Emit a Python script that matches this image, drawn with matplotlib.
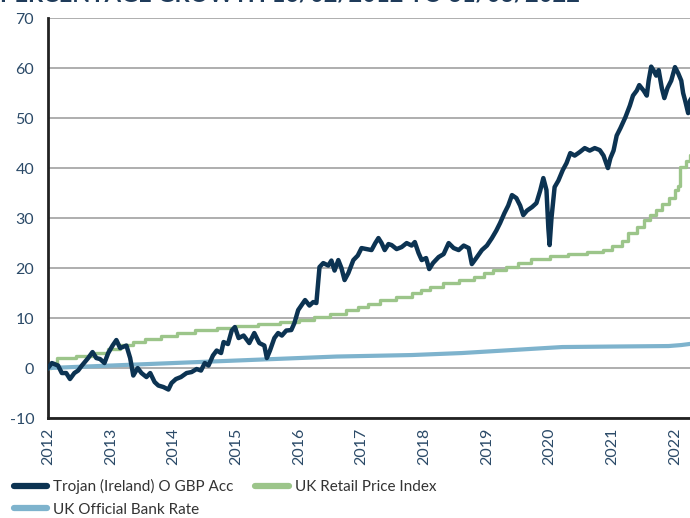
import matplotlib
matplotlib.use('Agg')
import matplotlib.pyplot as plt
from matplotlib.lines import Line2D

# Trojan (Ireland) O GBP Acc, cumulative % growth
trojan_years = [2012.00, 2012.06, 2012.16, 2012.22, 2012.29, 2012.35, 2012.42, 2012.48, 2012.54, 2012.64,
                2012.71, 2012.77, 2012.83, 2012.90, 2012.96, 2013.03, 2013.09, 2013.15, 2013.25, 2013.31,
                2013.36, 2013.43, 2013.49, 2013.57, 2013.63, 2013.70, 2013.76, 2013.84, 2013.92, 2013.97,
                2014.04, 2014.12, 2014.21, 2014.29, 2014.37, 2014.44, 2014.50, 2014.56, 2014.63, 2014.69,
                2014.76, 2014.80, 2014.87, 2014.93, 2014.98, 2015.04, 2015.12, 2015.21, 2015.29, 2015.37,
                2015.45, 2015.49, 2015.54, 2015.61, 2015.67, 2015.73, 2015.80, 2015.88, 2015.93, 2015.99,
                2016.04, 2016.10, 2016.17, 2016.23, 2016.28, 2016.33, 2016.39, 2016.47, 2016.52, 2016.57,
                2016.63, 2016.68, 2016.73, 2016.79, 2016.87, 2016.94, 2017.00, 2017.08, 2017.16, 2017.22,
                2017.27, 2017.32, 2017.37, 2017.43, 2017.48, 2017.56, 2017.64, 2017.72, 2017.80, 2017.85,
                2017.91, 2017.96, 2018.03, 2018.08, 2018.14, 2018.23, 2018.31, 2018.39, 2018.47, 2018.55,
                2018.63, 2018.71, 2018.76, 2018.83, 2018.92, 2019.00, 2019.08, 2019.15, 2019.21, 2019.28,
                2019.34, 2019.40, 2019.47, 2019.53, 2019.58, 2019.64, 2019.72, 2019.79, 2019.85, 2019.90,
                2019.95, 2019.98, 2020.00, 2020.03, 2020.08, 2020.14, 2020.21, 2020.27, 2020.33, 2020.40,
                2020.48, 2020.56, 2020.64, 2020.72, 2020.80, 2020.86, 2020.93, 2020.97, 2021.02, 2021.07,
                2021.13, 2021.21, 2021.28, 2021.33, 2021.39, 2021.43, 2021.50, 2021.55, 2021.58, 2021.62,
                2021.66, 2021.70, 2021.74, 2021.79, 2021.83, 2021.88, 2021.94, 2022.00, 2022.05, 2022.10,
                2022.13, 2022.16, 2022.21, 2022.24, 2022.29]
trojan_values = [0.0, 1.0, 0.5, -1.0, -1.0, -2.2, -1.0, -0.5, 0.5, 2.0,
                 3.2, 2.0, 1.8, 1.0, 3.0, 4.5, 5.6, 4.0, 4.5, 2.0,
                 -1.5, 0.0, -1.0, -1.8, -1.0, -2.8, -3.5, -3.8, -4.3, -3.0,
                 -2.2, -1.8, -1.0, -0.8, -0.2, -0.5, 1.0, 0.5, 2.5, 3.5,
                 3.0, 5.2, 4.8, 7.5, 8.2, 6.0, 6.5, 5.0, 7.0, 5.0,
                 4.5, 2.0, 3.5, 6.0, 7.0, 6.5, 7.5, 7.6, 9.0, 11.6,
                 12.5, 13.6, 12.5, 13.2, 13.0, 20.2, 21.0, 20.5, 21.5, 19.5,
                 21.6, 20.0, 17.6, 19.0, 21.6, 22.5, 24.0, 23.8, 23.6, 25.0,
                 26.0, 25.0, 23.6, 24.8, 24.6, 23.8, 24.2, 25.0, 24.5, 25.2,
                 23.0, 21.6, 22.0, 19.8, 21.0, 22.2, 22.8, 25.0, 24.0, 23.6,
                 24.5, 24.0, 20.8, 22.0, 23.6, 24.5, 26.0, 27.5, 29.0, 31.0,
                 32.5, 34.6, 34.0, 32.5, 30.6, 31.5, 32.2, 33.0, 35.5, 38.0,
                 35.6, 28.0, 24.6, 30.0, 36.2, 37.5, 39.6, 41.0, 43.0, 42.5,
                 43.2, 44.0, 43.5, 44.0, 43.6, 42.5, 40.0, 42.0, 43.5, 46.5,
                 48.0, 50.2, 52.5, 54.5, 55.5, 56.6, 55.5, 54.5, 57.5, 60.3,
                 59.5, 58.5, 59.6, 56.0, 54.0, 56.0, 57.5, 60.2, 59.0, 57.5,
                 55.0, 53.6, 51.0, 53.5, 54.5]

# UK Retail Price Index, cumulative % growth (stepped)
rpi_years = [2012.00, 2012.05, 2012.15, 2012.45, 2012.75, 2012.95, 2013.15, 2013.35, 2013.55, 2013.80,
             2014.05, 2014.35, 2014.70, 2015.00, 2015.35, 2015.70, 2016.00, 2016.25, 2016.50, 2016.75,
             2016.95, 2017.10, 2017.30, 2017.55, 2017.80, 2017.95, 2018.10, 2018.30, 2018.55, 2018.80,
             2018.95, 2019.10, 2019.30, 2019.50, 2019.70, 2020.00, 2020.30, 2020.60, 2020.85, 2021.00,
             2021.15, 2021.25, 2021.40, 2021.50, 2021.60, 2021.70, 2021.80, 2021.90, 2022.00, 2022.05,
             2022.08, 2022.18, 2022.24, 2022.29]
rpi_values = [0.0, 1.0, 2.0, 2.4, 3.0, 3.8, 4.6, 5.2, 5.8, 6.4,
              7.0, 7.6, 8.0, 8.4, 8.8, 9.2, 9.6, 10.3, 10.8, 11.6,
              12.2, 12.8, 13.6, 14.3, 15.0, 15.6, 16.2, 17.0, 17.6, 18.3,
              19.0, 19.6, 20.2, 21.0, 21.8, 22.4, 22.8, 23.2, 23.6, 24.4,
              25.5, 27.0, 28.3, 29.6, 30.6, 31.6, 32.8, 34.0, 35.6, 36.4,
              40.2, 41.4, 42.6, 42.6]

# UK Official Bank Rate, cumulative % growth
bank_years = [2012.0, 2013.0, 2014.0, 2015.0, 2016.0, 2016.6, 2017.8, 2018.6, 2019.4, 2020.2,
              2021.0, 2021.9, 2022.1, 2022.29]
bank_values = [0.0, 0.5, 1.0, 1.5, 2.0, 2.3, 2.6, 3.0, 3.6, 4.2,
               4.3, 4.4, 4.6, 4.9]

year_ticks = list(range(2012, 2023))
value_ticks = [-10, 0, 10, 20, 30, 40, 50, 60, 70]

navy = '#0c3352'
green = '#9cc58a'
blue = '#7eb3cd'
text_col = '#2b4a68'

plt.rcParams['font.family'] = ['Lato', 'DejaVu Sans']
plt.rcParams['axes.unicode_minus'] = False

fig = plt.figure(figsize=(6.9, 5.18), dpi=100)
ax = fig.add_axes([0.0696, 0.193, 0.935, 0.772])

ax.plot(rpi_years, rpi_values, color=green, lw=2.4, drawstyle='steps-post', zorder=3)
ax.plot(bank_years, bank_values, color=blue, lw=3, zorder=4, solid_capstyle='butt')
ax.plot(trojan_years, trojan_values, color=navy, lw=3.2, zorder=5, solid_joinstyle='round')

ax.set_xlim(2012, 2022.29)
ax.set_ylim(-10, 70)
ax.set_xticks(year_ticks)
ax.set_xticklabels([str(y) for y in year_ticks], rotation=90)
ax.set_yticks(value_ticks)
ax.tick_params(axis='both', length=0, labelsize=11.5, colors=text_col, pad=7)
ax.tick_params(axis='y', pad=10)
ax.grid(axis='y', color='#a8a8a8', lw=1.3)
ax.set_axisbelow(True)
for s in ['top', 'right']:
    ax.spines[s].set_visible(False)
ax.spines['left'].set_color('#222222')
ax.spines['left'].set_linewidth(2)
ax.spines['bottom'].set_color('#222222')
ax.spines['bottom'].set_linewidth(2)

fig.text(0.0, 0.990, 'PERCENTAGE GROWTH 16/02/2012 TO 31/03/2022', fontsize=17, fontweight='bold',
         color='#1f3b5a', va='bottom', ha='left')

# column-major fill: Trojan and Bank Rate in the first column, RPI in the second
handles = [Line2D([], [], color=navy, lw=4.5, solid_capstyle='round'),
           Line2D([], [], color=blue, lw=4.5, solid_capstyle='round'),
           Line2D([], [], color=green, lw=4.5, solid_capstyle='round')]
labels = ['Trojan (Ireland) O GBP Acc', 'UK Official Bank Rate', 'UK Retail Price Index']
fig.legend(handles, labels, ncol=2, loc='lower left', bbox_to_anchor=(0.0, -0.024),
           frameon=False, fontsize=11, handlelength=2.2, handletextpad=0.4,
           columnspacing=1.4, labelspacing=0.55, labelcolor='#333333')

fig.savefig('out.png', dpi=100)
